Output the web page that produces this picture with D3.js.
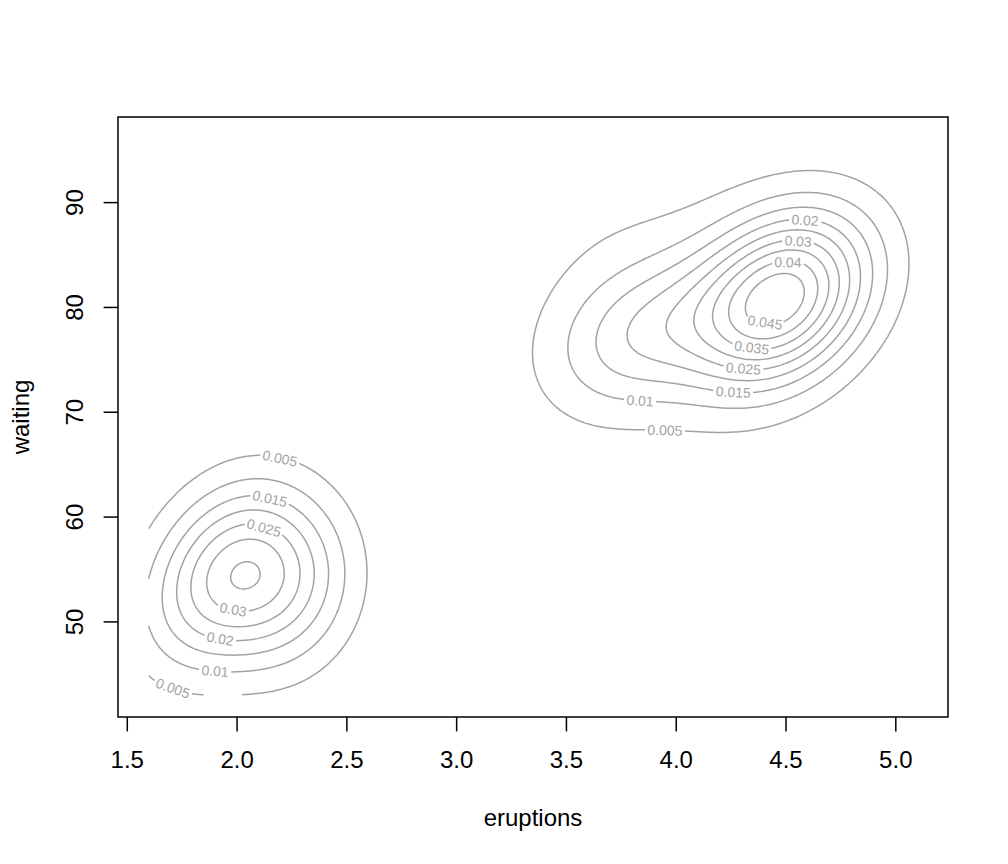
<!DOCTYPE html>
<html><head><meta charset="utf-8">
<script src="https://cdn.jsdelivr.net/npm/d3@7"></script>
<style>body{margin:0;background:#fff} text{font-family:"Liberation Sans",Arial,Helvetica,sans-serif}</style>
</head><body><svg id="chart" width="1008" height="864"></svg>
<script>
// ---- data ----
const levels = [0.005, 0.01, 0.015, 0.02, 0.025, 0.03, 0.035, 0.04, 0.045];
const xTicks = [1.5, 2.0, 2.5, 3.0, 3.5, 4.0, 4.5, 5.0];
const yTicks = [50, 60, 70, 80, 90];
const gridRangeX = [1.6, 5.1];   // range of eruptions
const gridRangeY = [43, 96];     // range of waiting
// Gaussian mixture approximating the 2-D density surface
const compMeanX  = [4.4791, 3.4775, 3.8475, 1.8795, 2.1727];
const compMeanY  = [80.8149, 103.3167, 77.5784, 53.8972, 53.9444];
const compSdX    = [0.2740, 0.5851, 0.2789, 0.2317, 0.2354];
const compSdY    = [5.6209, 27.1204, 4.9960, 5.9287, 5.7190];
const compRho    = [0.2777, -0.4451, 0.2886, 0.3144, 0.0535];
const compWeight = [0.4396, 0.3520, 0.1360, 0.1628, 0.2035];
// contour labels: [level, eruptions, waiting]
const labelSpots = [
  [0.005, 2.198, 65.62], [0.005, 1.712, 43.77], [0.01, 1.902, 45.20], [0.015, 2.152, 61.74],
  [0.02, 1.925, 48.32], [0.025, 2.122, 58.72], [0.03, 1.985, 51.25],
  [0.005, 3.951, 68.16], [0.01, 3.837, 70.81], [0.015, 4.262, 71.76], [0.02, 4.589, 88.20],
  [0.025, 4.308, 74.05], [0.03, 4.557, 86.10], [0.035, 4.346, 76.21], [0.04, 4.511, 84.00],
  [0.045, 4.407, 78.92]
];

// ---- layout ----
const box = {l: 118, t: 117, r: 948, b: 717};
const padX = (gridRangeX[1] - gridRangeX[0]) * 0.04, padY = (gridRangeY[1] - gridRangeY[0]) * 0.04;
const xs = d3.scaleLinear().domain([gridRangeX[0] - padX, gridRangeX[1] + padX]).range([box.l, box.r]);
const ys = d3.scaleLinear().domain([gridRangeY[0] - padY, gridRangeY[1] + padY]).range([box.b, box.t]);
const lineCol = "#a3a3a3";
const svg = d3.select("#chart");

function density(x, y) {
  let f = 0;
  for (let c = 0; c < compMeanX.length; c++) {
    const sx = compSdX[c], sy = compSdY[c], r = compRho[c];
    const zx = (x - compMeanX[c]) / sx, zy = (y - compMeanY[c]) / sy, q = 1 - r * r;
    f += compWeight[c] / (2 * Math.PI * sx * sy * Math.sqrt(q)) * Math.exp(-0.5 * (zx * zx - 2 * r * zx * zy + zy * zy) / q);
  }
  return f;
}
const nx = 400, ny = 360, gx0 = 1.2, gx1 = 5.6, gy0 = 35, gy1 = 102;
const sxS = (gx1 - gx0) / (nx - 1), syS = (gy1 - gy0) / (ny - 1);
const vals = new Float64Array(nx * ny);
for (let j = 0; j < ny; j++) for (let i = 0; i < nx; i++) vals[j * nx + i] = density(gx0 + i * sxS, gy0 + j * syS);
const cs = d3.contours().size([nx, ny]).thresholds(levels)(vals);

// clip to the grid rectangle
const cx0 = xs(gridRangeX[0]), cx1 = xs(gridRangeX[1]), cy0 = ys(gridRangeY[1]), cy1 = ys(gridRangeY[0]);
const inside = p => p[0] >= cx0 && p[0] <= cx1 && p[1] >= cy0 && p[1] <= cy1;
function clipSeg(p, q) {
  let t0 = 0, t1 = 1; const dx = q[0] - p[0], dy = q[1] - p[1];
  const P = [-dx, dx, -dy, dy], Q = [p[0] - cx0, cx1 - p[0], p[1] - cy0, cy1 - p[1]];
  for (let i = 0; i < 4; i++) {
    if (P[i] === 0) { if (Q[i] < 0) return null; }
    else { const t = Q[i] / P[i];
      if (P[i] < 0) { if (t > t1) return null; if (t > t0) t0 = t; }
      else { if (t < t0) return null; if (t < t1) t1 = t; } }
  }
  return [[p[0] + t0 * dx, p[1] + t0 * dy], [p[0] + t1 * dx, p[1] + t1 * dy], t0 > 0, t1 < 1];
}
function splitRing(pts) {
  pts = pts.slice(); const a = pts[0], b = pts[pts.length - 1];
  if (a[0] === b[0] && a[1] === b[1]) pts.pop();
  const oi = pts.findIndex(p => !inside(p));
  if (oi < 0) { pts.push(pts[0]); return [{pts, closed: true}]; }
  pts = pts.slice(oi).concat(pts.slice(0, oi)); pts.push(pts[0]);
  const out = []; let cur = null;
  for (let i = 0; i < pts.length - 1; i++) {
    const c = clipSeg(pts[i], pts[i + 1]);
    if (!c) { if (cur) { out.push(cur); cur = null; } continue; }
    if (c[2] || !cur) { if (cur) out.push(cur); cur = {pts: [c[0]], closed: false}; }
    cur.pts.push(c[1]);
    if (c[3]) { out.push(cur); cur = null; }
  }
  if (cur) out.push(cur);
  return out.filter(p => p.pts.length > 1);
}
const pieces = [];
for (const c of cs) for (const poly of c.coordinates) for (const ring of poly) {
  const px = ring.map(p => [xs(gx0 + (p[0] - 0.5) * sxS), ys(gy0 + (p[1] - 0.5) * syS)]);
  for (const pc of splitRing(px)) { pc.level = c.value; pieces.push(pc); }
}
pieces.forEach(pc => {
  const c = [0];
  for (let i = 1; i < pc.pts.length; i++) c.push(c[i - 1] + Math.hypot(pc.pts[i][0] - pc.pts[i - 1][0], pc.pts[i][1] - pc.pts[i - 1][1]));
  pc.cum = c; pc.len = c[c.length - 1]; pc.gaps = [];
});
function pointAt(pc, s) {
  if (pc.closed) s = ((s % pc.len) + pc.len) % pc.len; else s = Math.max(0, Math.min(pc.len, s));
  const c = pc.cum; let i = d3.bisectRight(c, s) - 1;
  if (i > c.length - 2) i = c.length - 2; if (i < 0) i = 0;
  const seg = c[i + 1] - c[i], t = seg > 0 ? (s - c[i]) / seg : 0, a = pc.pts[i], b = pc.pts[i + 1];
  return [a[0] + t * (b[0] - a[0]), a[1] + t * (b[1] - a[1])];
}
function extract(pc, a, b) {
  const out = [pointAt(pc, a)];
  const loops = pc.closed ? 2 : 1;
  for (let k = 0; k < loops; k++) for (let i = 0; i < pc.pts.length; i++) {
    const s = pc.cum[i] + k * pc.len; if (s > a && s < b) out.push(pc.pts[i]);
  }
  out.push(pointAt(pc, b)); return out;
}
function visible(pc) {
  if (!pc.gaps.length) return [pc.pts];
  const g = pc.gaps.slice().sort((p, q) => p[0] - q[0]), out = [];
  if (pc.closed) {
    for (let i = 0; i < g.length; i++) { const a = g[i][1], b = i + 1 < g.length ? g[i + 1][0] : g[0][0] + pc.len; if (b > a) out.push(extract(pc, a, b)); }
  } else {
    let s = 0;
    for (const [a, b] of g) { if (a > s) out.push(extract(pc, s, a)); s = Math.max(s, b); }
    if (s < pc.len) out.push(extract(pc, s, pc.len));
  }
  return out;
}

// labels
const labFont = 14;
const meas = svg.append("text").attr("font-size", labFont).attr("visibility", "hidden");
const labels = [];
labelSpots.forEach(([lv, x, y]) => {
  const p = [xs(x), ys(y)]; let best = null;
  pieces.filter(pc => pc.level === lv).forEach(pc => {
    for (let i = 0; i < pc.pts.length - 1; i++) {
      const a = pc.pts[i], b = pc.pts[i + 1], dx = b[0] - a[0], dy = b[1] - a[1], l2 = dx * dx + dy * dy;
      let t = l2 ? ((p[0] - a[0]) * dx + (p[1] - a[1]) * dy) / l2 : 0; t = Math.max(0, Math.min(1, t));
      const d = Math.hypot(a[0] + t * dx - p[0], a[1] + t * dy - p[1]);
      if (!best || d < best.d) best = {d, pc, s: pc.cum[i] + t * (pc.cum[i + 1] - pc.cum[i])};
    }
  });
  if (!best) return;
  const txt = String(lv); meas.text(txt);
  const tw = meas.node().getComputedTextLength(), h = tw / 2 + 2.5;
  let {pc, s} = best;
  if (!pc.closed) s = pc.len > 2 * h ? Math.max(h, Math.min(pc.len - h, s)) : pc.len / 2;
  const q0 = pointAt(pc, s - h), q1 = pointAt(pc, s + h), ctr = pointAt(pc, s);
  const mid = [(q0[0] + q1[0]) / 2, (q0[1] + q1[1]) / 2];
  let ang = Math.atan2(q1[1] - q0[1], q1[0] - q0[0]) * 180 / Math.PI;
  if (ang > 90) ang -= 180; if (ang < -90) ang += 180;
  if (pc.closed) { let a = s - h; if (a < 0) a += pc.len; pc.gaps.push([a, a + 2 * h]); }
  else pc.gaps.push([s - h, s + h]);
  labels.push({txt, x: (ctr[0] + mid[0]) / 2, y: (ctr[1] + mid[1]) / 2, ang});
});
meas.remove();

const segs = [];
pieces.forEach(pc => visible(pc).forEach(v => segs.push(v)));
svg.append("g").selectAll("path").data(segs).join("path")
  .attr("fill", "none").attr("stroke", lineCol).attr("stroke-width", 1.5).attr("stroke-linejoin", "round")
  .attr("d", d => d3.line()(d));
svg.append("g").selectAll("text").data(labels).join("text")
  .attr("transform", d => `translate(${d.x},${d.y}) rotate(${d.ang})`)
  .attr("text-anchor", "middle").attr("dominant-baseline", "central")
  .attr("font-size", labFont).attr("fill", lineCol).text(d => d.txt);

// box & axes
svg.append("rect").attr("x", box.l).attr("y", box.t).attr("width", box.r - box.l).attr("height", box.b - box.t)
  .attr("fill", "none").attr("stroke", "#000").attr("stroke-width", 1.5);
const gx = svg.append("g").attr("transform", `translate(0,${box.b})`)
  .call(d3.axisBottom(xs).tickValues(xTicks).tickSize(14.4).tickPadding(19.6).tickFormat(d3.format(".1f")));
const gy = svg.append("g").attr("transform", `translate(${box.l},0)`)
  .call(d3.axisLeft(ys).tickValues(yTicks).tickSize(14.4).tickFormat(d3.format("d")));
[gx, gy].forEach(g => {
  g.select(".domain").remove();
  g.selectAll(".tick line").attr("stroke", "#000").attr("stroke-width", 1.5);
  g.selectAll(".tick text").attr("fill", "#000").attr("font-size", 24).attr("font-family", '"Liberation Sans",Arial,sans-serif');
});
gy.selectAll(".tick text").attr("x", 0).attr("y", 0).attr("dy", 0).attr("text-anchor", "middle")
  .attr("transform", `translate(${83.3 - box.l},0) rotate(-90)`);
svg.append("text").attr("x", (box.l + box.r) / 2).attr("y", 826).attr("text-anchor", "middle")
  .attr("font-size", 24).text("eruptions");
svg.append("text").attr("transform", `translate(29,${(box.t + box.b) / 2}) rotate(-90)`).attr("text-anchor", "middle")
  .attr("font-size", 24).text("waiting");
</script></body></html>
